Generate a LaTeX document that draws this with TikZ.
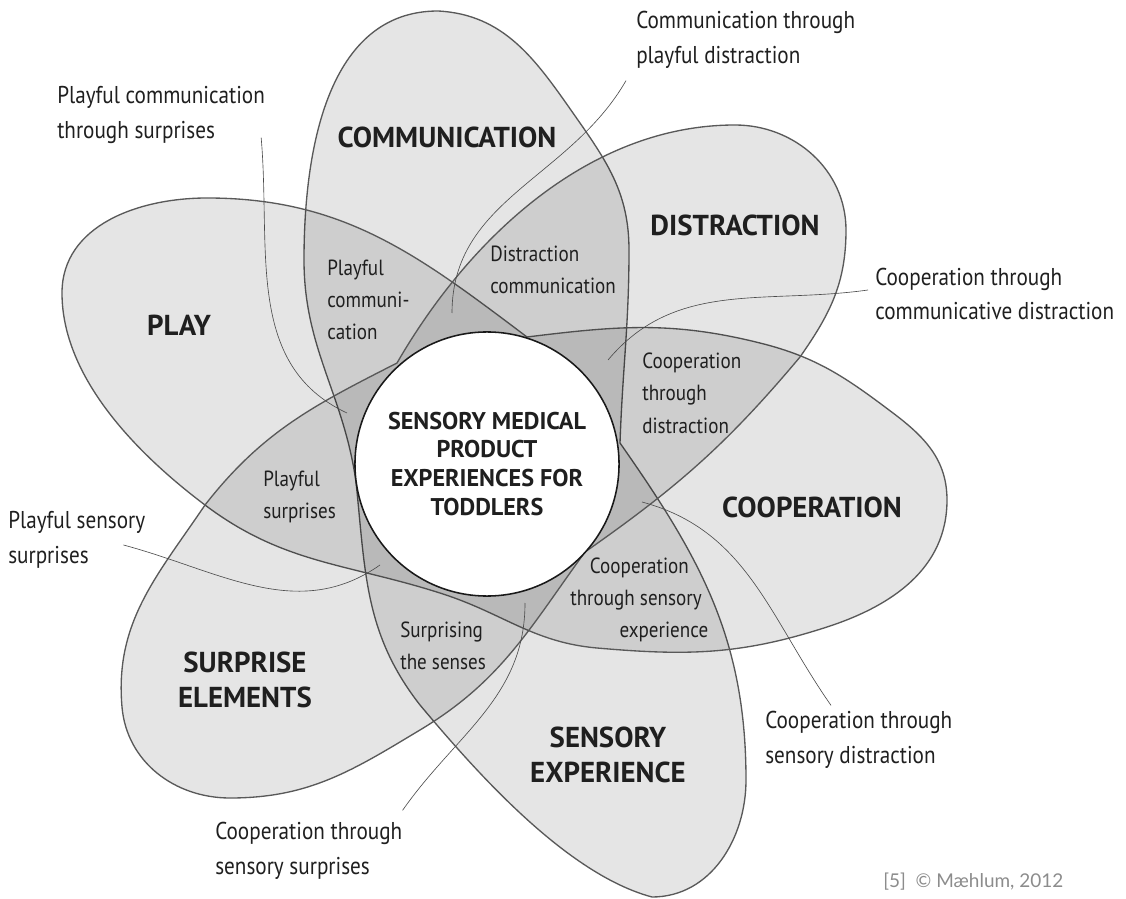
\documentclass[tikz,border=0pt]{standalone}
\usepackage{fontspec}
\setmainfont{PT Sans}
\newfontfamily\narrowfont[FakeStretch=0.87]{PT Sans}
\newfontfamily\notefont{Lato}
\usetikzlibrary{calc}

\begin{document}
\begin{tikzpicture}[x=0.025cm, y=-0.025cm,
  petal/.style={draw=black!65, line width=0.95pt, fill=black, fill opacity=0.1},
  big/.style={font=\fontsize{20.5}{25}\selectfont\bfseries, align=center, text=black!88, inner sep=0pt},
  small/.style={font=\narrowfont\fontsize{17.3}{24.5}\selectfont, align=left, anchor=west, text=black!88, inner sep=0pt},
  inner/.style={small, font=\narrowfont\fontsize{15.6}{23}\selectfont},
  hub/.style={circle, draw=black!90, line width=1.1pt, fill=white, minimum size=6.6cm, align=center,
    text=black!88, font=\fontsize{17.2}{20.6}\selectfont\bfseries},
  leader/.style={draw=black!70, line width=0.45pt}]
\useasboundingbox (0,0) rectangle (1126,899);

% communication / sensory experience
\path[petal] (620,443) to[out=-55, in=90] (746,780) to[out=-90, in=0] (652,897)
  to[out=165, in=-50, looseness=0.75] (420,705) to[out=128, in=-84] (356,482)
  to[out=98, in=-90] (304,260) to[out=90, in=180] (438,11) to[out=-3, in=125] (573,113)
  to[out=-55, in=90] (629,250) to[out=-90, in=88] (620,443) -- cycle;
% play / cooperation
\path[petal] (527,337) to[out=143, in=0] (207,198) to[out=180, in=90] (62,293)
  to[out=-90, in=143, looseness=0.85] (205,505) to[out=-37, in=162] (443,594)
  to[out=-18, in=175] (597,648) to[out=-5, in=198] (827,627) to[out=18, in=-90] (947,500)
  to[out=90, in=-37] (893,413) to[out=143, in=-14] (760,343) to[out=166, in=7] (527,337) -- cycle;
% distraction / surprise elements
\path[petal] (397,363) to[out=60, in=180, looseness=0.9] (735,125) to[out=0, in=90] (846,230)
  to[out=-90, in=55] (800,357) to[out=-130, in=35] (585,552) to[out=-126, in=31] (420,730)
  to[out=211, in=0] (230,798) to[out=180, in=-85] (122,707) to[out=95, in=-124] (205,505)
  to[out=52, in=207] (397,363) -- cycle;

\node[hub] (hub) at (487,464) {SENSORY MEDICAL\\PRODUCT\\EXPERIENCES FOR\\TODDLERS};

\node[big] (comm) at (447,137) {COMMUNICATION};
\node[big] (dist) at (735,225) {DISTRACTION};
\node[big] (play) at (179,325) {PLAY};
\node[big] (coop) at (812,507) {COOPERATION};
\node[big] (surp) at (245,680) {SURPRISE\\ELEMENTS};
\node[big] (sens) at (608,755) {SENSORY\\EXPERIENCE};

\node[inner] (r1) at (327,300) {Playful\\communi-\\cation};
\node[inner] (r2) at (490,270) {Distraction\\communication};
\node[inner] (r3) at (642,393) {Cooperation\\through\\distraction};
\node[inner] (r4) at (263,497) {Playful\\surprises};
\node[inner] (r5) at (400,646) {Surprising\\the senses};
\node[inner] (r6) at (570,600) {\hspace*{14pt}Cooperation\\through sensory\\\hspace*{35pt}experience};

\node[small] (l1) at (636,40) {Communication through\\playful distraction};
\node[small] (l2) at (57,115) {Playful communication\\through surprises};
\node[small] (l3) at (875,294) {Cooperation through\\communicative distraction};
\node[small] (l4) at (8,540) {Playful sensory\\surprises};
\node[small] (l5) at (765,740) {Cooperation through\\sensory distraction};
\node[small] (l6) at (215,851) {Cooperation through\\sensory surprises};
\node[anchor=west, inner sep=0pt, text=black!45, font=\notefont\fontsize{13.5}{16}\selectfont] (src)
  at (883,882) {[5]\ \ © Mæhlum, 2012};

\coordinate (e1) at (452,313);
\coordinate (e2) at (347,413);
\coordinate (e3) at (608,360);
\coordinate (e4) at (380,565);
\coordinate (e5) at (642,502);
\coordinate (e6) at (525,603);

\draw[leader] ($(l1.south west)+(-10,12)$) to[out=240, in=90] (e1);
\draw[leader] ($(l2.south east)+(-4,-6)$) to[out=-85, in=155] (e2);
\draw[leader] ($(l3.west)+(-7,-4)$) to[out=188, in=50] (e3);
\draw[leader] ($(l4.east)+(-22,5)$) to[out=-15, in=215] (e4);
\draw[leader] ($(l5.north west)+(66,-6)$) to[out=125, in=-15] (e5);
\draw[leader] ($(l6.north east)+(0,-12)$) to[out=55, in=-90] (e6);
\end{tikzpicture}
\end{document}
